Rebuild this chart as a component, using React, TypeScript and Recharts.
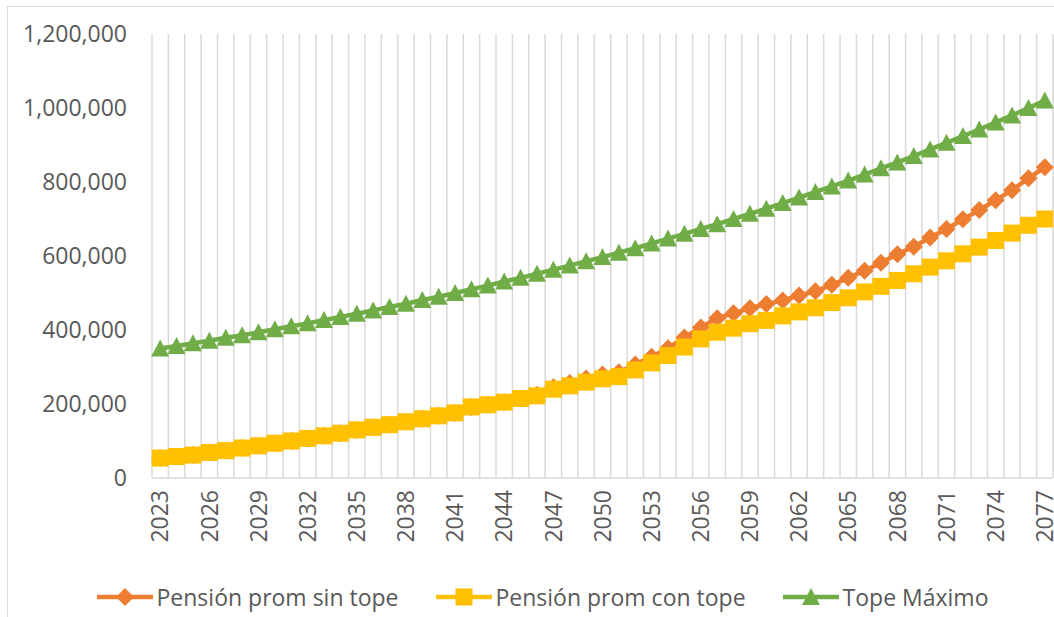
import React from 'react';
import { LineChart, Line, XAxis, YAxis, CartesianGrid, Legend } from 'recharts';

const years = [
  '2023', '2024', '2025', '2026', '2027', '2028', '2029', '2030', '2031', '2032',
  '2033', '2034', '2035', '2036', '2037', '2038', '2039', '2040', '2041', '2042',
  '2043', '2044', '2045', '2046', '2047', '2048', '2049', '2050', '2051', '2052',
  '2053', '2054', '2055', '2056', '2057', '2058', '2059', '2060', '2061', '2062',
  '2063', '2064', '2065', '2066', '2067', '2068', '2069', '2070', '2071', '2072',
  '2073', '2074', '2075', '2076', '2077',
];

// Pensión prom sin tope (orange)
const sinTope = [
  54000, 58000, 62000, 69000, 74000, 81000, 87000, 94000, 100000, 107000,
  114000, 121000, 130000, 137000, 144000, 152000, 160000, 168000, 176000, 192000,
  198000, 205000, 215000, 225000, 245000, 257000, 269000, 280000, 286000, 307000,
  328000, 351000, 380000, 407000, 432000, 445000, 459000, 470000, 480000, 493000,
  505000, 522000, 541000, 560000, 582000, 605000, 625000, 650000, 673000, 699000,
  724000, 751000, 778000, 810000, 840000,
];

// Pensión prom con tope (yellow)
const conTope = [
  54000, 58000, 62000, 69000, 74000, 81000, 87000, 94000, 100000, 107000,
  114000, 121000, 130000, 137000, 144000, 152000, 160000, 168000, 176000, 192000,
  198000, 205000, 215000, 222000, 240000, 249000, 259000, 268000, 274000, 292000,
  311000, 331000, 354000, 376000, 394000, 405000, 417000, 426000, 438000, 449000,
  460000, 474000, 487000, 503000, 518000, 534000, 552000, 570000, 587000, 606000,
  624000, 642000, 662000, 683000, 700000,
];

// Tope Máximo (green)
const topeMaximo = [
  350000, 357000, 364000, 371000, 379000, 386000, 394000, 402000, 410000, 418000,
  427000, 435000, 444000, 453000, 462000, 471000, 481000, 490000, 500000, 510000,
  520000, 531000, 541000, 552000, 563000, 574000, 586000, 597000, 609000, 621000,
  634000, 647000, 660000, 673000, 686000, 700000, 714000, 728000, 743000, 758000,
  773000, 788000, 804000, 820000, 837000, 853000, 870000, 888000, 906000, 924000,
  942000, 961000, 980000, 1000000, 1020000,
];

const yTicks = [0, 200000, 400000, 600000, 800000, 1000000, 1200000];

const data = years.map((year, i) => ({
  year,
  sinTope: sinTope[i],
  conTope: conTope[i],
  topeMaximo: topeMaximo[i],
}));

const FONT = '"Open Sans", sans-serif';
const TEXT = '#595959';
const GRID = '#D9D9D9';
const ORANGE = '#ED7D31';
const YELLOW = '#FFC000';
const GREEN = '#70AD47';

function Marker({ shape, cx, cy, color }: { shape: string; cx: number; cy: number; color: string }) {
  if (shape === 'diamond') {
    return <polygon points={`${cx},${cy - 9} ${cx + 9},${cy} ${cx},${cy + 9} ${cx - 9},${cy}`} fill={color} />;
  }
  if (shape === 'square') {
    return <rect x={cx - 8.5} y={cy - 8.5} width={17} height={17} fill={color} />;
  }
  return <polygon points={`${cx},${cy - 9} ${cx + 9},${cy + 8} ${cx - 9},${cy + 8}`} fill={color} />;
}

const makeDot = (shape: string, color: string) => (props: any) => {
  const { cx, cy, index } = props;
  if (cx == null || cy == null) return <g key={`${shape}-${index}`} />;
  return <Marker key={`${shape}-${index}`} shape={shape} cx={cx} cy={cy} color={color} />;
};

const legendItems = [
  { label: 'Pensión prom sin tope', color: ORANGE, shape: 'diamond' },
  { label: 'Pensión prom con tope', color: YELLOW, shape: 'square' },
  { label: 'Tope Máximo', color: GREEN, shape: 'triangle' },
];

function ChartLegend() {
  return (
    <div style={{ height: 40, display: 'flex', justifyContent: 'center', alignItems: 'center', fontFamily: FONT }}>
      {legendItems.map((item, i) => (
        <div key={item.label} style={{ display: 'flex', alignItems: 'center', marginLeft: i === 0 ? 0 : 37 }}>
          <svg width={56} height={20} style={{ marginRight: 4 }}>
            <line x1={0} y1={10} x2={56} y2={10} stroke={item.color} strokeWidth={4.5} />
            <Marker shape={item.shape} cx={28} cy={10} color={item.color} />
          </svg>
          <span style={{ fontSize: 23, color: TEXT, lineHeight: '40px' }}>{item.label}</span>
        </div>
      ))}
    </div>
  );
}

function YearTick({ x, y, payload }: any) {
  return (
    <text
      x={x}
      y={y}
      transform={`rotate(-90, ${x}, ${y})`}
      textAnchor="end"
      dy="0.36em"
      fill={TEXT}
      fontSize={23}
      fontFamily={FONT}
    >
      {payload.value}
    </text>
  );
}

// grid lines sit between the categories, like Excel's
const categoryBounds = ({ offset }: any) => {
  const left = offset?.left ?? 144;
  const w = offset?.width ?? 901;
  return Array.from({ length: years.length + 1 }, (_, i) => left + (i * w) / years.length);
};

export default function App() {
  return (
    <div style={{ position: 'absolute', left: 0, top: 0, width: 1054, height: 617, overflow: 'hidden', background: '#fff' }}>
      <div style={{ position: 'absolute', left: 7, top: 6, width: 1090, height: 660, border: `1px solid ${GRID}` }}>
        <LineChart width={1073} height={610} data={data} margin={{ top: 27, right: 28, bottom: 0, left: 0 }}>
          <CartesianGrid horizontal={false} stroke={GRID} strokeWidth={1.5} verticalCoordinatesGenerator={categoryBounds} />
          <XAxis
            dataKey="year"
            interval={2}
            height={99}
            padding={{ left: 8.2, right: 8.2 }}
            tickLine={false}
            tickSize={0}
            tickMargin={12}
            axisLine={{ stroke: GRID, strokeWidth: 1.5 }}
            tick={<YearTick />}
          />
          <YAxis
            width={144}
            domain={[0, 1200000]}
            ticks={yTicks}
            axisLine={false}
            tickLine={false}
            tickSize={0}
            tickMargin={25}
            tickFormatter={(v: number) => v.toLocaleString('en-US')}
            tick={{ fill: TEXT, fontSize: 23, fontFamily: FONT }}
          />
          <Legend verticalAlign="bottom" content={<ChartLegend />} wrapperStyle={{ left: 0, width: 1069 }} />
          <Line
            dataKey="sinTope"
            name="Pensión prom sin tope"
            stroke={ORANGE}
            strokeWidth={4.5}
            dot={makeDot('diamond', ORANGE)}
            activeDot={false}
            isAnimationActive={false}
          />
          <Line
            dataKey="conTope"
            name="Pensión prom con tope"
            stroke={YELLOW}
            strokeWidth={4.5}
            dot={makeDot('square', YELLOW)}
            activeDot={false}
            isAnimationActive={false}
          />
          <Line
            dataKey="topeMaximo"
            name="Tope Máximo"
            stroke={GREEN}
            strokeWidth={4.5}
            dot={makeDot('triangle', GREEN)}
            activeDot={false}
            isAnimationActive={false}
          />
        </LineChart>
      </div>
    </div>
  );
}
